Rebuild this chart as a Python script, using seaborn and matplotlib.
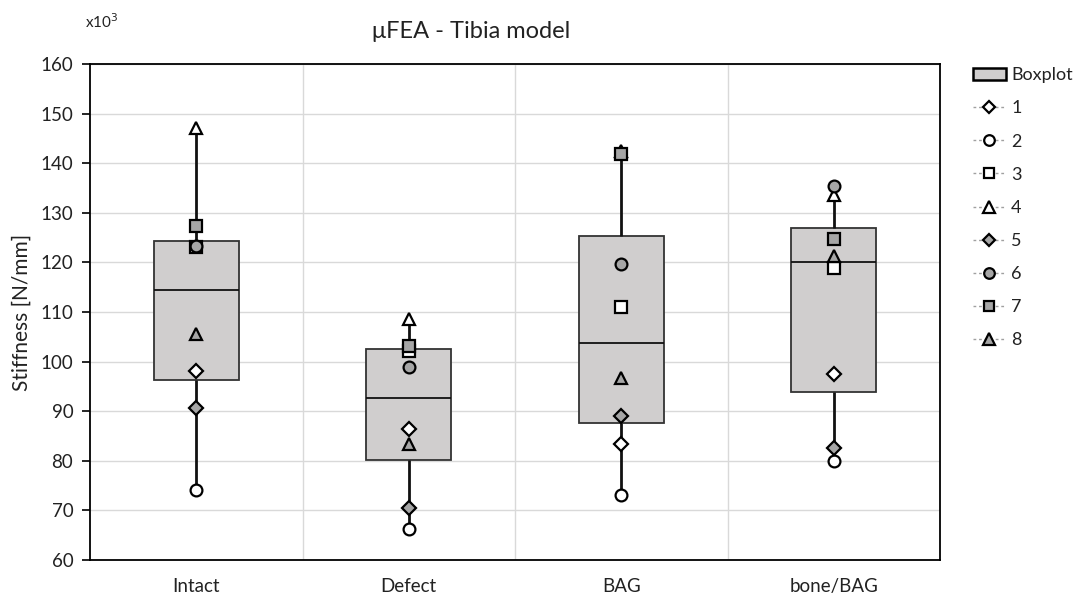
import matplotlib
matplotlib.use("Agg")
import matplotlib.pyplot as plt
import seaborn as sns
import pandas as pd
from matplotlib.patches import Patch
from matplotlib.lines import Line2D

categories = ["Intact", "Defect", "BAG", "bone/BAG"]
s1 = [98.2, 86.4, 83.4, 97.6]
s2 = [74.1, 66.2, 73.1, 80.0]
s3 = [123.2, 102.2, 111.1, 118.8]
s4 = [147.0, 108.6, 142.5, 133.6]
s5 = [90.7, 70.4, 89.1, 82.5]
s6 = [123.3, 98.9, 119.7, 135.5]
s7 = [127.3, 103.2, 141.8, 124.7]
s8 = [105.5, 83.4, 96.6, 121.2]
series_names = ["1", "2", "3", "4", "5", "6", "7", "8"]
series_values = [s1, s2, s3, s4, s5, s6, s7, s8]
yticks = [60, 70, 80, 90, 100, 110, 120, 130, 140, 150, 160]

BOX = "#d0cece"
GREY = "#a6a6a6"
markers = ["D", "o", "s", "^", "D", "o", "s", "^"]
fills = ["white"] * 4 + [GREY] * 4
msizes = [7, 8.5, 8, 9, 7, 8.5, 8, 9]

sns.set_style("white")
plt.rcParams["font.family"] = ["Lato", "DejaVu Sans"]

rows = []
for name, vals in zip(series_names, series_values):
    for c, v in zip(categories, vals):
        rows.append({"cat": c, "val": v, "series": name})
df = pd.DataFrame(rows)

fig = plt.figure(figsize=(10.77, 5.97), dpi=100)
ax = fig.add_axes([90 / 1077, 37 / 597, 850 / 1077, 496 / 597])

sns.boxplot(data=df, x="cat", y="val", order=categories, whis=(0, 100),
            width=0.4, showfliers=False, showcaps=False, color=BOX, ax=ax,
            boxprops=dict(facecolor=BOX, edgecolor="#333333", linewidth=1.3),
            whiskerprops=dict(color="#111111", linewidth=2),
            medianprops=dict(color="#111111", linewidth=1.3),
            zorder=2)

for name, vals, m, f, ms in zip(series_names, series_values, markers, fills, msizes):
    ax.plot(range(len(categories)), vals, linestyle="none", marker=m,
            markersize=ms, markerfacecolor=f, markeredgecolor="black",
            markeredgewidth=1.6, zorder=5)

ax.set_ylim(60, 160)
ax.set_xlim(-0.5, 3.5)
ax.set_yticks(yticks)
ax.set_yticklabels([str(t) for t in yticks], fontsize=13.5, color="#222222")
ax.set_xticks(range(len(categories)))
ax.set_xticklabels(categories, fontsize=13.5, color="#222222")
ax.tick_params(axis="x", length=0, pad=13)
ax.tick_params(axis="y", length=6, width=1.2, direction="out", color="black", pad=6, left=True)
ax.set_xticks([0.5, 1.5, 2.5], minor=True)
ax.grid(axis="y", which="major", color="#d9d9d9", linewidth=1, zorder=0)
ax.grid(axis="x", which="minor", color="#d9d9d9", linewidth=1, zorder=0)
ax.grid(axis="x", which="major", visible=False)
ax.tick_params(axis="x", which="minor", length=0)
ax.set_axisbelow(True)
for sp in ax.spines.values():
    sp.set_color("black")
    sp.set_linewidth(1.3)
    sp.set_visible(True)
ax.set_xlabel("")
ax.set_ylabel("Stiffness [N/mm]", fontsize=15, color="#222222", labelpad=6)

fig.text(471 / 1077, 1 - 32 / 597, "μFEA - Tibia model", ha="center", va="center",
         fontsize=17, color="#222222")
fig.text(85 / 1077, 1 - 22 / 597, r"x10$^3$", ha="left", va="center",
         fontsize=11, color="#222222")

handles = [Patch(facecolor=BOX, edgecolor="black", linewidth=1.8, label="Boxplot")]
for name, m, f, ms in zip(series_names, markers, fills, msizes):
    handles.append(Line2D([0], [0], linestyle=(0, (2, 2)), color="#a0a0a0", linewidth=1,
                          marker=m, markersize=ms * 0.9, markerfacecolor=f,
                          markeredgecolor="black", markeredgewidth=1.6, label=name))
leg = fig.legend(handles=handles, loc="upper left", bbox_to_anchor=(966 / 1077, 1 - 60 / 597),
                 frameon=False, fontsize=13, labelspacing=0.95, handlelength=1.8,
                 handletextpad=0.3, borderaxespad=0)
for t in leg.get_texts():
    t.set_color("#222222")

fig.savefig("out.png", dpi=100)
